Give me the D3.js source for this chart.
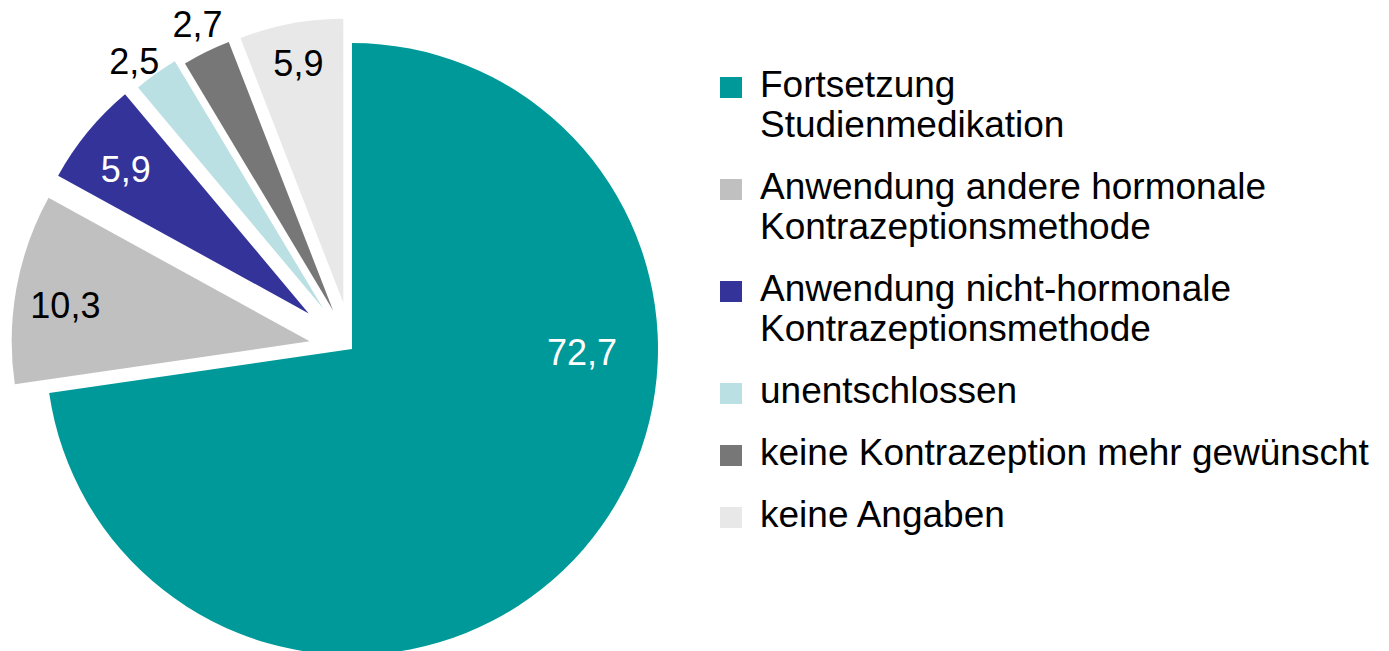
<!DOCTYPE html>
<html lang="de">
<head>
<meta charset="utf-8">
<title>Kontrazeption nach Studienende</title>
<script src="https://d3js.org/d3.v7.min.js"></script>
<style>
  body { margin: 0; background: #fff; }
  .lbl { font-family: "Liberation Sans", Arial, sans-serif; font-size: 36px; }
  .leg { font-family: "Liberation Sans", Arial, sans-serif; font-size: 37px; fill: #000; }
</style>
</head>
<body>
<div id="chart"></div>
<script>
// data
var categories = [
  ["Fortsetzung", "Studienmedikation"],
  ["Anwendung andere hormonale", "Kontrazeptionsmethode"],
  ["Anwendung nicht-hormonale", "Kontrazeptionsmethode"],
  ["unentschlossen"],
  ["keine Kontrazeption mehr gewünscht"],
  ["keine Angaben"]
];
var values = [72.7, 10.3, 5.9, 2.5, 2.7, 5.9];
var valueLabels = ["72,7", "10,3", "5,9", "2,5", "2,7", "5,9"];

// styling
var colors = ["#009999", "#c0c0c0", "#333399", "#bae0e3", "#777777", "#e8e8e8"];
var labelFill = ["#fff", "#000", "#fff", "#000", "#000", "#000"];
var explode = [0, 43, 56, 50, 43, 47];
var outerR = [306, 298, 286, 288, 288, 284];
var labelR = [230, 247, 233, 311, 317, 244];
var labelTurn = [-40.2, -1.8, -1.2, -1.9, 0.8, 0]; // degrees, from slice middle

var width = 1389, height = 651;
var cx = 352, cy = 349;

var svg = d3.select("#chart").append("svg")
  .attr("width", width)
  .attr("height", height);

var pie = d3.pie().sort(null).value(function(d) { return d; });
var arcs = pie(values);

var g = svg.append("g").attr("transform", "translate(" + cx + "," + cy + ")");

function mid(d) { return (d.startAngle + d.endAngle) / 2; }

g.selectAll("path.slice")
  .data(arcs)
  .enter().append("path")
  .attr("class", "slice")
  .attr("fill", function(d, i) { return colors[i]; })
  .attr("transform", function(d, i) {
    var a = mid(d);
    return "translate(" + (explode[i] * Math.sin(a)) + "," + (-explode[i] * Math.cos(a)) + ")";
  })
  .attr("d", function(d, i) {
    return d3.arc().innerRadius(0).outerRadius(outerR[i])(d);
  });

function labelPos(d, i) {
  var m = mid(d);
  var a = m + labelTurn[i] * Math.PI / 180;
  return [explode[i] * Math.sin(m) + labelR[i] * Math.sin(a),
          -explode[i] * Math.cos(m) - labelR[i] * Math.cos(a)];
}

g.selectAll("text.lbl")
  .data(arcs)
  .enter().append("text")
  .attr("class", "lbl")
  .attr("text-anchor", "middle")
  .attr("dy", "0.36em")
  .attr("fill", function(d, i) { return labelFill[i]; })
  .attr("x", function(d, i) { return labelPos(d, i)[0]; })
  .attr("y", function(d, i) { return labelPos(d, i)[1]; })
  .text(function(d, i) { return valueLabels[i]; });

// legend
var lineH = 40, entryGap = 22;
var legend = svg.append("g").attr("transform", "translate(720,97)");
var yy = 0;
categories.forEach(function(lines, i) {
  var e = legend.append("g").attr("transform", "translate(0," + yy + ")");
  e.append("rect")
    .attr("x", 0).attr("y", -20)
    .attr("width", 22).attr("height", 21)
    .attr("fill", colors[i]);
  var t = e.append("text").attr("class", "leg").attr("x", 40).attr("y", 0);
  lines.forEach(function(s, j) {
    t.append("tspan").attr("x", 40).attr("y", j * lineH).text(s);
  });
  yy += lines.length * lineH + entryGap;
});
</script>
</body>
</html>
